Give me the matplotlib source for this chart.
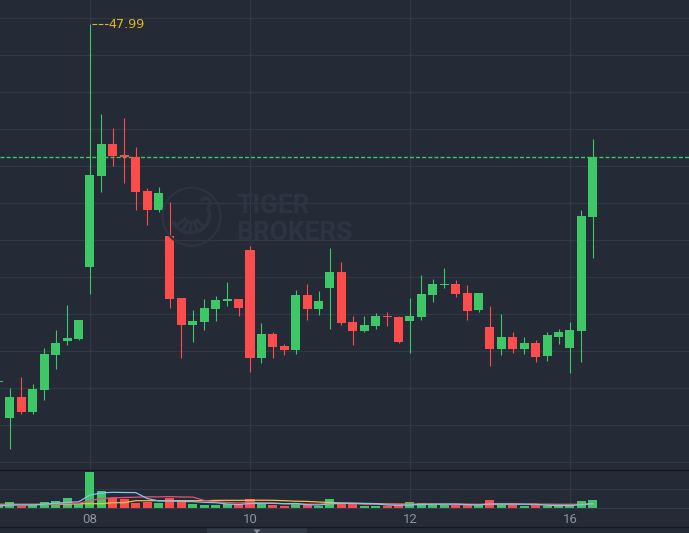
import numpy as np
import matplotlib.pyplot as plt
from matplotlib.patches import Circle, Arc, Rectangle, Polygon
from matplotlib.lines import Line2D
from matplotlib.transforms import IdentityTransform, offset_copy

BG = "#242a36"
GRID = "#313845"
UP = "#3dc766"
DOWN = "#fd4c4c"
WM = "#2d3441"
MA5_C = "#7fc6f2"
MA10_C = "#e9507a"
MA20_C = "#f3c03e"
HI_C = "#e6b422"

# candle data, left to right
opens = [38.31, 37.36, 37.92, 37.52, 38.11, 39.06, 39.44, 39.49, 41.44, 43.90,
         44.76, 44.46, 44.40, 43.48, 42.98, 42.27, 40.59, 39.87, 39.95, 40.30,
         40.52, 40.57, 41.89, 38.98, 39.62, 39.30, 39.20, 40.67, 40.30, 40.87,
         41.30, 39.94, 39.71, 39.84, 40.11, 40.08, 39.98, 40.09, 40.67, 40.94,
         40.97, 40.73, 40.28, 39.81, 39.22, 39.54, 39.22, 39.38, 39.03, 39.54,
         39.24, 39.71, 42.78]
highs = [38.34, 38.16, 38.46, 38.27, 39.24, 39.73, 40.40, 40.00, 47.99, 45.57,
         45.19, 45.46, 44.67, 43.57, 43.59, 43.19, 40.59, 40.27, 40.57, 40.65,
         41.03, 40.57, 42.00, 39.92, 39.67, 39.35, 40.81, 40.97, 40.78, 41.94,
         41.57, 40.11, 40.11, 40.19, 40.22, 40.11, 40.59, 41.21, 41.11, 41.40,
         41.08, 40.94, 40.73, 40.38, 40.16, 39.67, 39.54, 39.46, 39.67, 39.76,
         39.94, 42.97, 44.89]
lows = [38.31, 36.52, 37.47, 37.47, 37.84, 38.68, 39.33, 39.47, 40.71, 43.47,
        44.17, 43.69, 42.98, 42.57, 42.92, 40.33, 38.98, 39.41, 39.74, 39.98,
        40.39, 40.11, 38.60, 38.84, 38.98, 39.06, 39.09, 40.01, 40.14, 39.76,
        39.87, 39.33, 39.68, 39.76, 39.84, 39.38, 39.11, 40.01, 40.49, 40.87,
        40.63, 40.01, 40.22, 38.76, 39.06, 39.11, 39.09, 38.87, 38.90, 39.36,
        38.57, 38.87, 41.68]
closes = [38.34, 37.92, 37.52, 38.13, 39.08, 39.38, 39.51, 40.00, 43.92, 44.76,
          44.44, 44.40, 43.47, 42.98, 43.43, 40.57, 39.87, 39.97, 40.32, 40.54,
          40.57, 40.33, 38.98, 39.62, 39.28, 39.20, 40.67, 40.30, 40.51, 41.30,
          39.93, 39.71, 39.86, 40.11, 40.08, 39.41, 40.11, 40.70, 40.97, 40.97,
          40.70, 40.25, 40.73, 39.22, 39.54, 39.22, 39.38, 39.01, 39.59, 39.67,
          39.73, 42.81, 44.40]

# volume (k) and its moving averages
volumes = [20, 60, 23, 27, 60, 70, 100, 53, 360, 170,
           100, 90, 50, 63, 50, 103, 63, 40, 30, 30,
           37, 40, 90, 37, 30, 20, 47, 30, 23, 90,
           43, 43, 20, 20, 23, 27, 60, 50, 30, 30,
           30, 30, 30, 80, 30, 30, 20, 30, 23, 23,
           23, 70, 80]
vol_ma5 = [20, 30, 30, 30, 38, 48, 56, 62, 129, 151,
           157, 155, 154, 95, 71, 71, 66, 64, 57, 53,
           40, 35, 45, 47, 47, 43, 45, 33, 30, 42,
           47, 46, 44, 43, 30, 27, 30, 36, 38, 39,
           40, 34, 30, 40, 40, 40, 38, 38, 27, 25,
           24, 34, 44]
vol_ma10 = [30, 32, 33, 33, 36, 38, 44, 46, 75, 94,
            102, 105, 108, 112, 111, 114, 110, 109, 76, 62,
            56, 51, 55, 52, 50, 42, 40, 39, 38, 44,
            45, 45, 38, 37, 36, 37, 38, 40, 41, 35,
            33, 32, 33, 39, 40, 40, 36, 34, 33, 33,
            32, 36, 41]
vol_ma20 = [37, 37, 37, 37, 37, 37, 37, 43, 43, 43,
            53, 53, 73, 73, 73, 73, 73, 73, 73, 76,
            77, 76, 78, 78, 77, 73, 68, 66, 60, 55,
            50, 48, 46, 44, 40, 38, 37, 37, 37, 37,
            37, 37, 36, 37, 37, 37, 37, 37, 37, 36,
            36, 36, 37]

tick_pos = [8, 22, 36, 50]
tick_labels = ["08", "10", "12", "16"]

x = np.arange(len(opens))
o = np.array(opens)
c = np.array(closes)
h = np.array(highs)
l = np.array(lows)
up = c >= o
colors = np.where(up, UP, DOWN)

W, H = 689, 533
step = 160 / 14  # pixels per candle

fig = plt.figure(figsize=(W / 100, H / 100), dpi=100, facecolor=BG)
ax = fig.add_axes([0, 63 / H, 1, 470 / H])
vax = fig.add_axes([0, 25 / H, 1, 38 / H], sharex=ax)
for a in (ax, vax):
    a.set_facecolor(BG)
    for s in a.spines.values():
        s.set_visible(False)

ax.set_xlim(8 - 90 / step, 8 + 599 / step)
ax.set_ylim(35.944, 48.647)

# grid
ax.set_yticks(np.arange(36.16, 48.2, 1.0))
ax.set_xticks(tick_pos)
ax.grid(True, color=GRID, lw=0.9)
ax.tick_params(length=0, labelleft=False, labelbottom=False)
ax.set_axisbelow(True)

# watermark
ident = IdentityTransform()
fig.text(236 / W, (H - 212.7) / H, "TIGER", color=WM, fontsize=19,
         fontfamily="Roboto", fontweight="bold", va="baseline", ha="left")
fig.text(236 / W, (H - 240) / H, "BROKERS", color=WM, fontsize=19,
         fontfamily="Roboto", fontweight="bold", va="baseline", ha="left")
cx, cy = 191.5, H - 216.7
fig.add_artist(Circle((cx, cy), 29, fill=False, ec=WM, lw=1.6, transform=ident))
fig.add_artist(Arc((cx - 1, cy + 2), 38, 36, theta1=200, theta2=385,
                   ec=WM, lw=2.5, transform=ident))
fig.add_artist(Arc((cx + 14, cy + 14), 9, 9, theta1=-60, theta2=160,
                   ec=WM, lw=2.5, transform=ident))
for ang in (215, 240, 265, 290, 315):
    t = np.deg2rad(ang)
    fig.add_artist(Line2D([cx + 8 * np.cos(t), cx + 17 * np.cos(t)],
                          [cy + 2 + 8 * np.sin(t), cy + 2 + 17 * np.sin(t)],
                          color=WM, lw=2.5, transform=ident))

# candles
bw = 9 / step
ax.vlines(x, l, h, colors=colors, lw=0.8, zorder=3)
body_lo = np.minimum(o, c)
body_h = np.maximum(np.abs(c - o), 1.2 / 37)
ax.bar(x, body_h, bottom=body_lo, width=bw, color=colors, lw=0, zorder=4)

# last price line
ax.axhline(closes[-1], color=UP, lw=1.0, ls=(0, (2.9, 1.5)), zorder=2)

# high marker
ih = int(np.argmax(h))
tr = offset_copy(ax.transData, fig=fig, x=2, y=0, units="dots")
ax.plot([x[ih], x[ih] + 16 / step], [h[ih], h[ih]], color=HI_C, lw=0.8,
        ls=(0, (4.2, 1.4)), transform=tr, zorder=5)
ax.annotate(f"{h[ih]:.2f}", xy=(x[ih], h[ih]), xytext=(18, 0),
            textcoords="offset pixels", color=HI_C, fontsize=9.2,
            va="center", ha="left", zorder=5)

# volume panel
vax.set_ylim(0, 380)
vax.set_yticks([190])
vax.grid(True, color=GRID, lw=0.9)
vax.set_axisbelow(True)
vax.bar(x, volumes, width=bw, color=colors, lw=0, zorder=2)
vax.plot(x, vol_ma20, color=MA20_C, lw=0.9, zorder=3)
vax.plot(x, vol_ma10, color=MA10_C, lw=0.9, zorder=3)
vax.plot(x, vol_ma5, color=MA5_C, lw=0.9, zorder=3)
vax.spines["bottom"].set_visible(True)
vax.spines["bottom"].set_color("#363d4a")
vax.set_xticks(tick_pos)
vax.set_xticklabels(tick_labels)
vax.tick_params(axis="x", length=0, pad=3.5, labelsize=9.5, labelcolor="#8a93a2")
vax.tick_params(axis="y", length=0, labelleft=False)
for lab in vax.get_xticklabels():
    lab.set_fontfamily("Roboto")

# dividers and bottom strip
fig.add_artist(Line2D([0, 1], [(H - 470) / H] * 2, color="#15181e", lw=1.0,
                      transform=fig.transFigure))
fig.add_artist(Line2D([0, 1], [(H - 527) / H] * 2, color="#15181e", lw=1.0,
                      transform=fig.transFigure))
fig.add_artist(Rectangle((207, 0), 100, 5.5, fc="#333a47", ec="none",
                         transform=ident))
fig.add_artist(Polygon([(253.5, 3.5), (260.5, 3.5), (257, -0.5)], closed=True,
                       fc="#8a909c", ec="none", transform=ident))

fig.savefig("out.png", dpi=100, facecolor=BG)
